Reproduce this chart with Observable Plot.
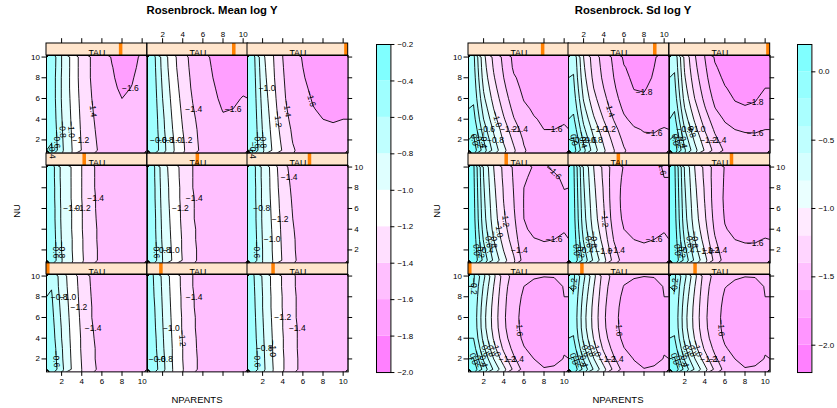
<!DOCTYPE html>
<html><head><meta charset="utf-8">
<script src="https://cdn.jsdelivr.net/npm/d3@7"></script>
<script src="https://cdn.jsdelivr.net/npm/@observablehq/plot@0.6"></script>
<style>
body{margin:0;background:#fff;font-family:"Liberation Sans",Arial,sans-serif;}
#root{position:relative;width:837px;height:408px;overflow:hidden;background:#fff;}
.lab{position:absolute;white-space:nowrap;line-height:1;color:#000;}
</style></head><body><div id="root"></div><script>
// ---------- data ----------
const nparents = [1,2,3,4,5,6,7,8,9,10];
const nu = [10,9,8,7,6,5,4,3,2,1];          // grid rows, top to bottom
const tauPos = [0,0.125,0.25,0.375,0.5,0.625,0.75,0.875,1]; // strip indicator per panel
const axisTicks = [2,4,6,8,10];
const meanLevels = [-2.0,-1.8,-1.6,-1.4,-1.2,-1.0,-0.8,-0.6,-0.4,-0.2];
const meanColors = ["#FF80FF","#FF9FFF","#FFBFFF","#FFDFFF","#FFFFFF","#DFFFFF","#BFFFFF","#9FFFFF","#80FFFF"];
const meanBarTicks = [-2.0,-1.8,-1.6,-1.4,-1.2,-1.0,-0.8,-0.6,-0.4,-0.2];
const sdLevels = [-2.2,-2.0,-1.8,-1.6,-1.4,-1.2,-1.0,-0.8,-0.6,-0.4,-0.2,0.0,0.2];
const sdColors = ["#FF80FF","#FF95FF","#FFAAFF","#FFBFFF","#FFD5FF","#FFEAFF","#EAFFFF","#D5FFFF","#BFFFFF","#AAFFFF","#95FFFF","#80FFFF"];
const sdBarTicks = [-2.0,-1.5,-1.0,-0.5,0.0];

// Mean log Y, one grid per TAU panel (rows NU=10..1, columns NPARENTS=1..10)
const meanTau0 = [
[-0.62,-0.90,-1.10,-1.28,-1.43,-1.50,-1.52,-1.53,-1.53,-1.53],
[-0.61,-0.89,-1.09,-1.27,-1.42,-1.49,-1.52,-1.53,-1.53,-1.53],
[-0.58,-0.87,-1.08,-1.26,-1.41,-1.49,-1.52,-1.53,-1.53,-1.53],
[-0.56,-0.85,-1.07,-1.25,-1.40,-1.48,-1.52,-1.53,-1.53,-1.53],
[-0.54,-0.83,-1.06,-1.24,-1.40,-1.48,-1.51,-1.53,-1.53,-1.53],
[-0.52,-0.81,-1.05,-1.23,-1.39,-1.47,-1.51,-1.52,-1.53,-1.53],
[-0.50,-0.80,-1.04,-1.22,-1.38,-1.47,-1.51,-1.52,-1.53,-1.53],
[-0.47,-0.78,-1.03,-1.22,-1.37,-1.46,-1.50,-1.52,-1.53,-1.53],
[-0.45,-0.77,-1.02,-1.21,-1.37,-1.46,-1.50,-1.52,-1.53,-1.53],
[-0.42,-0.75,-1.01,-1.20,-1.36,-1.45,-1.50,-1.52,-1.53,-1.53]];
const meanTau1 = [
[-0.58,-0.84,-1.08,-1.24,-1.40,-1.47,-1.50,-1.51,-1.51,-1.51],
[-0.57,-0.83,-1.07,-1.24,-1.40,-1.47,-1.50,-1.51,-1.51,-1.51],
[-0.56,-0.82,-1.06,-1.23,-1.39,-1.47,-1.50,-1.51,-1.51,-1.51],
[-0.54,-0.81,-1.05,-1.23,-1.39,-1.46,-1.50,-1.51,-1.51,-1.51],
[-0.53,-0.80,-1.04,-1.22,-1.38,-1.46,-1.50,-1.51,-1.51,-1.51],
[-0.52,-0.79,-1.03,-1.22,-1.38,-1.46,-1.49,-1.51,-1.51,-1.51],
[-0.50,-0.78,-1.02,-1.21,-1.37,-1.46,-1.49,-1.51,-1.51,-1.51],
[-0.49,-0.77,-1.01,-1.20,-1.37,-1.45,-1.49,-1.51,-1.51,-1.51],
[-0.47,-0.75,-1.01,-1.20,-1.36,-1.45,-1.49,-1.51,-1.51,-1.51],
[-0.45,-0.74,-1.00,-1.19,-1.36,-1.45,-1.49,-1.51,-1.51,-1.51]];
const meanTau2 = [
[-0.56,-0.82,-1.05,-1.22,-1.38,-1.46,-1.50,-1.51,-1.51,-1.51],
[-0.55,-0.81,-1.05,-1.22,-1.38,-1.46,-1.50,-1.51,-1.51,-1.51],
[-0.54,-0.80,-1.04,-1.21,-1.37,-1.46,-1.50,-1.51,-1.51,-1.51],
[-0.53,-0.80,-1.04,-1.21,-1.37,-1.46,-1.50,-1.51,-1.51,-1.51],
[-0.52,-0.79,-1.03,-1.20,-1.37,-1.46,-1.49,-1.51,-1.51,-1.51],
[-0.51,-0.78,-1.02,-1.20,-1.36,-1.45,-1.49,-1.51,-1.51,-1.51],
[-0.50,-0.77,-1.01,-1.19,-1.36,-1.45,-1.49,-1.51,-1.51,-1.51],
[-0.48,-0.76,-1.00,-1.19,-1.36,-1.45,-1.49,-1.51,-1.51,-1.51],
[-0.47,-0.75,-1.00,-1.18,-1.35,-1.45,-1.49,-1.51,-1.51,-1.51],
[-0.45,-0.74,-0.99,-1.18,-1.35,-1.45,-1.49,-1.51,-1.51,-1.51]];
const meanTau3 = [
[-0.50,-0.85,-1.01,-1.20,-1.38,-1.45,-1.48,-1.50,-1.51,-1.51],
[-0.50,-0.85,-1.01,-1.20,-1.38,-1.45,-1.48,-1.50,-1.51,-1.51],
[-0.49,-0.84,-1.01,-1.20,-1.38,-1.45,-1.48,-1.50,-1.51,-1.51],
[-0.49,-0.84,-1.01,-1.20,-1.37,-1.45,-1.48,-1.50,-1.51,-1.51],
[-0.48,-0.83,-1.00,-1.19,-1.37,-1.45,-1.48,-1.50,-1.51,-1.51],
[-0.48,-0.83,-1.00,-1.19,-1.37,-1.44,-1.48,-1.50,-1.51,-1.51],
[-0.47,-0.82,-1.00,-1.19,-1.36,-1.44,-1.48,-1.50,-1.51,-1.51],
[-0.46,-0.81,-0.99,-1.18,-1.36,-1.44,-1.48,-1.50,-1.51,-1.51],
[-0.45,-0.80,-0.99,-1.18,-1.35,-1.44,-1.48,-1.50,-1.51,-1.51],
[-0.44,-0.79,-0.98,-1.17,-1.35,-1.44,-1.48,-1.50,-1.51,-1.51]];
const meanTau4 = [
[-0.52,-0.90,-1.10,-1.26,-1.40,-1.46,-1.49,-1.50,-1.50,-1.50],
[-0.52,-0.89,-1.09,-1.26,-1.40,-1.46,-1.49,-1.50,-1.50,-1.50],
[-0.51,-0.88,-1.08,-1.25,-1.40,-1.46,-1.49,-1.50,-1.50,-1.50],
[-0.51,-0.87,-1.08,-1.25,-1.39,-1.46,-1.49,-1.50,-1.50,-1.50],
[-0.50,-0.86,-1.07,-1.24,-1.39,-1.46,-1.49,-1.50,-1.50,-1.50],
[-0.49,-0.85,-1.06,-1.24,-1.39,-1.46,-1.49,-1.50,-1.50,-1.50],
[-0.49,-0.84,-1.05,-1.23,-1.38,-1.45,-1.49,-1.50,-1.50,-1.50],
[-0.48,-0.83,-1.04,-1.22,-1.38,-1.45,-1.49,-1.50,-1.50,-1.50],
[-0.47,-0.81,-1.03,-1.22,-1.37,-1.45,-1.49,-1.50,-1.50,-1.50],
[-0.46,-0.80,-1.02,-1.21,-1.37,-1.45,-1.49,-1.50,-1.50,-1.50]];
const meanTau5 = [
[-0.50,-0.85,-1.07,-1.35,-1.45,-1.50,-1.53,-1.54,-1.55,-1.55],
[-0.50,-0.85,-1.06,-1.33,-1.44,-1.50,-1.53,-1.54,-1.55,-1.55],
[-0.49,-0.84,-1.06,-1.31,-1.43,-1.49,-1.53,-1.54,-1.55,-1.55],
[-0.49,-0.84,-1.05,-1.29,-1.42,-1.49,-1.52,-1.54,-1.55,-1.55],
[-0.48,-0.83,-1.04,-1.28,-1.41,-1.48,-1.52,-1.54,-1.54,-1.54],
[-0.48,-0.83,-1.03,-1.26,-1.40,-1.48,-1.52,-1.53,-1.54,-1.54],
[-0.47,-0.82,-1.02,-1.25,-1.39,-1.47,-1.52,-1.53,-1.54,-1.54],
[-0.46,-0.81,-1.01,-1.24,-1.38,-1.47,-1.51,-1.53,-1.54,-1.54],
[-0.46,-0.80,-1.01,-1.23,-1.38,-1.46,-1.51,-1.53,-1.54,-1.54],
[-0.45,-0.80,-1.00,-1.22,-1.37,-1.46,-1.51,-1.53,-1.54,-1.54]];
const meanTau6 = [
[-0.45,-0.80,-1.05,-1.28,-1.42,-1.53,-1.61,-1.66,-1.65,-1.57],
[-0.46,-0.80,-1.05,-1.28,-1.42,-1.52,-1.595,-1.65,-1.63,-1.56],
[-0.47,-0.81,-1.05,-1.28,-1.42,-1.51,-1.585,-1.64,-1.61,-1.55],
[-0.47,-0.81,-1.05,-1.27,-1.41,-1.50,-1.57,-1.625,-1.595,-1.54],
[-0.47,-0.81,-1.04,-1.26,-1.40,-1.49,-1.56,-1.60,-1.58,-1.53],
[-0.46,-0.80,-1.03,-1.25,-1.39,-1.48,-1.55,-1.58,-1.57,-1.53],
[-0.45,-0.79,-1.02,-1.24,-1.38,-1.47,-1.54,-1.57,-1.56,-1.52],
[-0.43,-0.78,-1.01,-1.23,-1.37,-1.46,-1.53,-1.56,-1.55,-1.52],
[-0.41,-0.77,-1.00,-1.22,-1.36,-1.45,-1.52,-1.55,-1.54,-1.51],
[-0.38,-0.76,-0.99,-1.21,-1.35,-1.44,-1.51,-1.54,-1.53,-1.51]];
const meanTau7 = [
[-0.50,-0.87,-1.13,-1.33,-1.46,-1.56,-1.62,-1.66,-1.67,-1.66],
[-0.49,-0.86,-1.12,-1.32,-1.45,-1.55,-1.61,-1.655,-1.665,-1.65],
[-0.48,-0.84,-1.10,-1.30,-1.44,-1.54,-1.60,-1.645,-1.65,-1.635],
[-0.47,-0.82,-1.08,-1.28,-1.43,-1.53,-1.59,-1.63,-1.63,-1.615],
[-0.46,-0.80,-1.06,-1.26,-1.41,-1.52,-1.58,-1.62,-1.615,-1.595],
[-0.45,-0.78,-1.04,-1.24,-1.39,-1.50,-1.57,-1.605,-1.60,-1.58],
[-0.44,-0.76,-1.02,-1.22,-1.37,-1.48,-1.56,-1.59,-1.585,-1.57],
[-0.43,-0.75,-1.00,-1.20,-1.35,-1.47,-1.54,-1.57,-1.57,-1.56],
[-0.42,-0.73,-0.98,-1.18,-1.34,-1.46,-1.53,-1.56,-1.56,-1.55],
[-0.42,-0.72,-0.97,-1.17,-1.33,-1.45,-1.52,-1.55,-1.55,-1.54]];
const meanTau8 = [
[-0.50,-0.95,-1.18,-1.40,-1.54,-1.61,-1.66,-1.69,-1.69,-1.68],
[-0.49,-0.93,-1.17,-1.39,-1.53,-1.60,-1.65,-1.68,-1.68,-1.67],
[-0.48,-0.91,-1.16,-1.38,-1.52,-1.59,-1.64,-1.67,-1.67,-1.66],
[-0.47,-0.89,-1.14,-1.37,-1.51,-1.575,-1.625,-1.655,-1.66,-1.65],
[-0.46,-0.87,-1.12,-1.36,-1.50,-1.56,-1.61,-1.64,-1.645,-1.635],
[-0.45,-0.85,-1.10,-1.34,-1.48,-1.545,-1.595,-1.62,-1.625,-1.62],
[-0.44,-0.83,-1.08,-1.31,-1.46,-1.53,-1.575,-1.60,-1.605,-1.60],
[-0.43,-0.81,-1.06,-1.28,-1.43,-1.51,-1.56,-1.585,-1.59,-1.59],
[-0.42,-0.79,-1.04,-1.25,-1.41,-1.49,-1.54,-1.57,-1.575,-1.575],
[-0.40,-0.77,-1.02,-1.22,-1.38,-1.47,-1.52,-1.55,-1.56,-1.56]];

// Sd log Y
const sdTau0 = [
[-0.17,-0.55,-0.95,-1.30,-1.47,-1.56,-1.59,-1.597,-1.595,-1.575],
[-0.20,-0.62,-1.00,-1.33,-1.51,-1.60,-1.625,-1.635,-1.63,-1.595],
[-0.22,-0.67,-1.04,-1.35,-1.53,-1.625,-1.65,-1.66,-1.655,-1.60],
[-0.24,-0.71,-1.07,-1.36,-1.545,-1.64,-1.67,-1.68,-1.675,-1.625],
[-0.25,-0.73,-1.08,-1.37,-1.55,-1.65,-1.68,-1.69,-1.685,-1.64],
[-0.24,-0.72,-1.07,-1.36,-1.545,-1.645,-1.68,-1.69,-1.685,-1.64],
[-0.20,-0.66,-1.02,-1.32,-1.52,-1.63,-1.67,-1.68,-1.675,-1.625],
[-0.11,-0.56,-0.93,-1.24,-1.46,-1.59,-1.645,-1.66,-1.65,-1.605],
[0.01,-0.43,-0.80,-1.11,-1.37,-1.53,-1.60,-1.625,-1.62,-1.597],
[0.14,-0.27,-0.63,-0.94,-1.25,-1.47,-1.56,-1.595,-1.59,-1.58]];
const sdTau1 = [
[-0.16,-0.55,-0.94,-1.29,-1.47,-1.56,-1.59,-1.598,-1.595,-1.575],
[-0.19,-0.61,-0.99,-1.32,-1.51,-1.605,-1.63,-1.64,-1.63,-1.595],
[-0.21,-0.66,-1.03,-1.34,-1.535,-1.63,-1.655,-1.665,-1.655,-1.60],
[-0.23,-0.70,-1.06,-1.36,-1.55,-1.645,-1.675,-1.685,-1.675,-1.625],
[-0.24,-0.72,-1.07,-1.37,-1.555,-1.655,-1.685,-1.695,-1.685,-1.64],
[-0.23,-0.71,-1.06,-1.36,-1.55,-1.65,-1.685,-1.695,-1.685,-1.64],
[-0.19,-0.65,-1.01,-1.32,-1.525,-1.635,-1.675,-1.685,-1.675,-1.625],
[-0.10,-0.55,-0.92,-1.24,-1.465,-1.595,-1.65,-1.665,-1.65,-1.605],
[0.02,-0.42,-0.79,-1.11,-1.375,-1.535,-1.605,-1.63,-1.62,-1.597],
[0.15,-0.26,-0.62,-0.94,-1.255,-1.475,-1.565,-1.597,-1.59,-1.58]];
const sdTau2 = [
[-0.16,-0.54,-0.94,-1.29,-1.46,-1.55,-1.585,-1.597,-1.595,-1.575],
[-0.19,-0.61,-0.99,-1.32,-1.50,-1.595,-1.625,-1.635,-1.63,-1.595],
[-0.21,-0.66,-1.03,-1.34,-1.52,-1.62,-1.65,-1.66,-1.655,-1.60],
[-0.23,-0.70,-1.06,-1.35,-1.535,-1.635,-1.67,-1.68,-1.675,-1.625],
[-0.24,-0.72,-1.07,-1.36,-1.54,-1.645,-1.68,-1.69,-1.685,-1.64],
[-0.23,-0.71,-1.06,-1.35,-1.535,-1.64,-1.68,-1.69,-1.685,-1.64],
[-0.19,-0.65,-1.01,-1.31,-1.51,-1.625,-1.67,-1.68,-1.675,-1.625],
[-0.10,-0.55,-0.92,-1.23,-1.45,-1.585,-1.645,-1.66,-1.65,-1.605],
[0.02,-0.42,-0.79,-1.10,-1.36,-1.525,-1.60,-1.625,-1.62,-1.597],
[0.15,-0.26,-0.62,-0.93,-1.24,-1.465,-1.56,-1.595,-1.59,-1.58]];
const sdTau3 = [
[0.03,-0.62,-1.00,-1.25,-1.43,-1.56,-1.61,-1.605,-1.59,-1.57],
[0.04,-0.60,-0.98,-1.24,-1.42,-1.585,-1.625,-1.625,-1.61,-1.59],
[0.05,-0.58,-0.96,-1.22,-1.41,-1.60,-1.635,-1.64,-1.63,-1.598],
[0.06,-0.56,-0.94,-1.21,-1.40,-1.605,-1.64,-1.65,-1.64,-1.61],
[0.07,-0.54,-0.92,-1.19,-1.39,-1.605,-1.645,-1.655,-1.65,-1.625],
[0.08,-0.52,-0.90,-1.17,-1.37,-1.60,-1.64,-1.65,-1.645,-1.62],
[0.10,-0.48,-0.86,-1.13,-1.34,-1.585,-1.625,-1.635,-1.63,-1.605],
[0.12,-0.42,-0.80,-1.08,-1.30,-1.56,-1.595,-1.605,-1.60,-1.59],
[0.14,-0.34,-0.72,-1.01,-1.24,-1.53,-1.57,-1.58,-1.58,-1.57],
[0.16,-0.26,-0.64,-0.93,-1.17,-1.49,-1.54,-1.56,-1.56,-1.55]];
const sdTau4 = [
[0.03,-0.62,-1.00,-1.25,-1.50,-1.61,-1.64,-1.64,-1.615,-1.595],
[0.04,-0.60,-0.98,-1.24,-1.52,-1.625,-1.655,-1.655,-1.635,-1.60],
[0.05,-0.58,-0.96,-1.22,-1.53,-1.635,-1.665,-1.665,-1.645,-1.615],
[0.06,-0.56,-0.94,-1.21,-1.53,-1.64,-1.67,-1.67,-1.655,-1.625],
[0.07,-0.54,-0.92,-1.19,-1.52,-1.64,-1.67,-1.675,-1.66,-1.63],
[0.08,-0.52,-0.90,-1.17,-1.50,-1.63,-1.665,-1.67,-1.655,-1.625],
[0.10,-0.48,-0.86,-1.13,-1.46,-1.60,-1.64,-1.65,-1.64,-1.605],
[0.12,-0.42,-0.80,-1.08,-1.41,-1.57,-1.60,-1.61,-1.60,-1.59],
[0.14,-0.34,-0.72,-1.01,-1.35,-1.53,-1.57,-1.58,-1.575,-1.57],
[0.16,-0.26,-0.64,-0.93,-1.28,-1.49,-1.54,-1.56,-1.56,-1.55]];
const sdTau5 = [
[0.03,-0.62,-1.00,-1.25,-1.48,-1.61,-1.66,-1.68,-1.68,-1.67],
[0.04,-0.60,-0.98,-1.24,-1.49,-1.615,-1.665,-1.685,-1.685,-1.675],
[0.05,-0.58,-0.96,-1.22,-1.49,-1.62,-1.67,-1.69,-1.69,-1.68],
[0.06,-0.56,-0.94,-1.21,-1.49,-1.625,-1.675,-1.69,-1.69,-1.68],
[0.07,-0.54,-0.92,-1.19,-1.48,-1.62,-1.67,-1.685,-1.685,-1.675],
[0.08,-0.52,-0.90,-1.17,-1.46,-1.61,-1.655,-1.67,-1.67,-1.655],
[0.10,-0.48,-0.86,-1.13,-1.43,-1.59,-1.635,-1.645,-1.645,-1.63],
[0.12,-0.42,-0.80,-1.08,-1.38,-1.56,-1.60,-1.61,-1.61,-1.595],
[0.14,-0.34,-0.72,-1.01,-1.32,-1.52,-1.57,-1.58,-1.58,-1.575],
[0.16,-0.26,-0.64,-0.93,-1.26,-1.48,-1.54,-1.56,-1.56,-1.55]];
const sdTau6 = [
[-0.35,-0.95,-1.25,-1.45,-1.65,-1.69,-1.72,-1.73,-1.73,-1.72],
[-0.33,-0.92,-1.22,-1.43,-1.63,-1.68,-1.71,-1.72,-1.72,-1.71],
[-0.30,-0.88,-1.18,-1.40,-1.58,-1.66,-1.70,-1.71,-1.71,-1.70],
[-0.27,-0.82,-1.13,-1.36,-1.54,-1.64,-1.68,-1.69,-1.69,-1.68],
[-0.23,-0.76,-1.07,-1.31,-1.50,-1.61,-1.65,-1.67,-1.67,-1.66],
[-0.18,-0.68,-1.00,-1.25,-1.45,-1.57,-1.62,-1.64,-1.65,-1.64],
[-0.12,-0.60,-0.92,-1.18,-1.39,-1.52,-1.59,-1.62,-1.62,-1.61],
[-0.04,-0.50,-0.83,-1.10,-1.31,-1.47,-1.55,-1.60,-1.60,-1.59],
[0.04,-0.40,-0.75,-1.03,-1.24,-1.42,-1.51,-1.57,-1.58,-1.58],
[0.12,-0.30,-0.67,-0.95,-1.17,-1.38,-1.48,-1.54,-1.56,-1.57]];
const sdTau7 = [
[-0.45,-1.00,-1.30,-1.48,-1.64,-1.83,-1.86,-1.85,-1.81,-1.76],
[-0.42,-0.97,-1.28,-1.46,-1.62,-1.79,-1.845,-1.84,-1.80,-1.75],
[-0.39,-0.93,-1.25,-1.44,-1.60,-1.76,-1.83,-1.83,-1.79,-1.74],
[-0.35,-0.88,-1.20,-1.40,-1.57,-1.72,-1.805,-1.81,-1.77,-1.72],
[-0.30,-0.82,-1.14,-1.35,-1.53,-1.68,-1.77,-1.785,-1.75,-1.70],
[-0.24,-0.74,-1.06,-1.29,-1.48,-1.63,-1.72,-1.74,-1.72,-1.68],
[-0.16,-0.65,-0.97,-1.21,-1.41,-1.57,-1.65,-1.68,-1.67,-1.64],
[-0.07,-0.55,-0.87,-1.12,-1.33,-1.50,-1.58,-1.61,-1.61,-1.59],
[0.02,-0.44,-0.78,-1.04,-1.26,-1.44,-1.53,-1.57,-1.58,-1.57],
[0.10,-0.34,-0.70,-0.97,-1.19,-1.38,-1.49,-1.54,-1.56,-1.56]];
const sdTau8 = [
[-0.45,-1.05,-1.38,-1.60,-1.82,-1.88,-1.91,-1.92,-1.90,-1.87],
[-0.42,-1.02,-1.35,-1.57,-1.78,-1.86,-1.89,-1.90,-1.88,-1.85],
[-0.38,-0.98,-1.31,-1.54,-1.74,-1.83,-1.87,-1.88,-1.86,-1.83],
[-0.34,-0.93,-1.26,-1.50,-1.70,-1.79,-1.84,-1.85,-1.83,-1.80],
[-0.29,-0.87,-1.20,-1.45,-1.65,-1.75,-1.81,-1.82,-1.81,-1.77],
[-0.22,-0.79,-1.12,-1.38,-1.59,-1.70,-1.77,-1.79,-1.78,-1.74],
[-0.14,-0.70,-1.03,-1.30,-1.51,-1.62,-1.68,-1.70,-1.70,-1.67],
[-0.05,-0.59,-0.93,-1.21,-1.43,-1.55,-1.60,-1.61,-1.61,-1.60],
[0.04,-0.48,-0.83,-1.11,-1.35,-1.50,-1.555,-1.575,-1.58,-1.58],
[0.12,-0.37,-0.73,-1.02,-1.27,-1.43,-1.51,-1.55,-1.56,-1.56]];

const meanGrids = [meanTau0,meanTau1,meanTau2,meanTau3,meanTau4,meanTau5,meanTau6,meanTau7,meanTau8];
const sdGrids = [sdTau0,sdTau1,sdTau2,sdTau3,sdTau4,sdTau5,sdTau6,sdTau7,sdTau8];

// ---------- layout ----------
const FONT = "'Liberation Sans', Arial, Helvetica, sans-serif";
const PW = 100.7, PH = 97.4, STRIP = 12;
const XD = [0.5, 10.5], YD = [0.75, 10.15];
const rowTops = [55.3, 164.8, 274.3];
const sides = [
  {cols: [46, 146.7, 247.4], grids: meanGrids, levels: meanLevels, colors: meanColors, bar: 376.2, barTicks: meanBarTicks, title: "Rosenbrock. Mean log Y", titleX: 212, nuX: 17, npX: 197},
  {cols: [467.6, 568.3, 669.0], grids: sdGrids, levels: sdLevels, colors: sdColors, bar: 797.3, barTicks: sdBarTicks, title: "Rosenbrock. Sd log Y", titleX: 633, nuX: 437, npX: 618}
];
const mL = 26, mR = 26, mT = 36, mB = 24;
const kx = PW / (XD[1] - XD[0]), ky = PH / (YD[1] - YD[0]);
const fmt = d3.format(".1f");
const root = document.getElementById("root");

const gx1 = nparents[0] - 0.5, gx2 = nparents[nparents.length - 1] + 0.5;
const gy1 = nu[0] + 0.5, gy2 = nu[nu.length - 1] - 0.5;
const gridOpts = {width: nparents.length, height: nu.length, x1: gx1, x2: gx2, y1: gy1, y2: gy2};

function isoLabels(grid, levels) {
  const n = nparents.length, m = nu.length;
  const values = grid.flat();
  const rx = d3.extent(nparents), ry = d3.extent(nu);
  const out = [];
  const onB = p => p[0] <= 1e-9 || p[0] >= n - 1e-9 || p[1] <= 1e-9 || p[1] >= m - 1e-9;
  for (const c of d3.contours().size([n, m]).thresholds(levels)(values)) {
    for (const poly of c.coordinates) for (const ring of poly) {
      const pts = ring.slice(0, ring.length - 1);
      const s = pts.findIndex(onB);
      const runs = [];
      if (s < 0) runs.push(ring);
      else {
        let cur = [];
        for (let k = 0; k < pts.length; k++) {
          const p = pts[(s + k) % pts.length];
          if (onB(p)) { if (cur.length > 1) runs.push(cur); cur = []; }
          else cur.push(p);
        }
        if (cur.length > 1) runs.push(cur);
      }
      for (const run of runs) {
        const xx = run.map(p => gx1 + p[0] * (gx2 - gx1) / n);
        const yy = run.map(p => gy1 + p[1] * (gy2 - gy1) / m);
        const L = xx.length;
        const slopes = [];
        for (let i = 0; i < L - 1; i++) {
          const dx = xx[i + 1] - xx[i], dy = yy[i + 1] - yy[i];
          slopes.push(dx === 0 && dy === 0 ? Infinity : Math.abs(dy / dx));
        }
        const depth = xx.map((x, i) => Math.min(Math.min(x - rx[0], rx[1] - x) / (rx[1] - rx[0]),
                                                Math.min(yy[i] - ry[0], ry[1] - yy[i]) / (ry[1] - ry[0])));
        let t = d3.minIndex(slopes), rot = 0;
        if (depth[t] < 0.05) {
          t = Math.min(d3.maxIndex(depth), L - 2);
          const dxs = (xx[t + 1] - xx[t]) * kx, dys = -(yy[t + 1] - yy[t]) * ky;
          rot = dxs === 0 ? 90 : Math.atan(dys / dxs) * 180 / Math.PI;
          if (!isFinite(rot)) rot = 0;
        }
        out.push({x: xx[t], y: yy[t], rotate: rot, label: fmt(c.value)});
      }
    }
  }
  return out;
}

function place(el, left, top) {
  el.style.position = "absolute";
  el.style.left = left + "px";
  el.style.top = top + "px";
  root.appendChild(el);
}
function label(text, cx, cy, size, opts = {}) {
  const d = document.createElement("div");
  d.className = "lab";
  d.textContent = text;
  d.style.fontSize = size + "px";
  d.style.fontFamily = FONT;
  if (opts.bold) d.style.fontWeight = "bold";
  d.style.left = cx + "px";
  d.style.top = cy + "px";
  d.style.transform = "translate(-50%,-50%)" + (opts.rotate ? ` rotate(${opts.rotate}deg)` : "");
  root.appendChild(d);
}

const MW = 0.035; // width share of the strip indicator
for (const side of sides) {
  const colorDomain = side.levels.slice(1, side.colors.length);
  for (let k = 0; k < 9; k++) {
    const col = k % 3, row = 2 - Math.floor(k / 3);
    const grid = side.grids[k];
    const tau = tauPos[k];
    const top = () => YD[1], bottom = () => YD[0];
    const marks = [
      Plot.contour(grid.flat(), {...gridOpts, thresholds: side.levels, fill: Plot.identity, clip: true}),
      Plot.contour(grid.flat(), {...gridOpts, thresholds: side.levels, value: Plot.identity, fill: "none", stroke: "#000", strokeWidth: 0.9, clip: true}),
      Plot.text(isoLabels(grid, side.levels), {x: "x", y: "y", text: "label", rotate: "rotate", fontSize: 8.5, fill: "#000"}),
      Plot.frame({stroke: "#000"}),
      Plot.rect([XD], {x1: d => d[0], x2: d => d[1], y1: top, y2: top, insetTop: -STRIP, fill: "#FFE5CC"}),
      Plot.rect([tau], {x1: t => XD[0] + (XD[1] - XD[0]) * t * (1 - MW), x2: t => XD[0] + (XD[1] - XD[0]) * (t * (1 - MW) + MW), y1: top, y2: top, insetTop: -STRIP, fill: "#FF7F00"}),
      Plot.rect([XD], {x1: d => d[0], x2: d => d[1], y1: top, y2: top, insetTop: -STRIP, fill: "none", stroke: "#000"}),
      Plot.text(["TAU"], {frameAnchor: "top", dy: -STRIP / 2, fontSize: 8.8, fill: "#000"})
    ];
    if (col === 0) {
      marks.push(Plot.ruleY(axisTicks, {y: d => d, x1: () => XD[0], x2: () => XD[0], insetLeft: -4.5, stroke: "#000"}));
      if (row !== 1) marks.push(Plot.text(axisTicks, {y: d => d, text: d => String(d), frameAnchor: "left", dx: -6.5, textAnchor: "end", fontSize: 8, fill: "#000"}));
    }
    if (col === 2) {
      marks.push(Plot.ruleY(axisTicks, {y: d => d, x1: () => XD[1], x2: () => XD[1], insetRight: -4.5, stroke: "#000"}));
      if (row === 1) marks.push(Plot.text(axisTicks, {y: d => d, text: d => String(d), frameAnchor: "right", dx: 6, textAnchor: "start", fontSize: 8, fill: "#000"}));
    }
    if (row === 2) {
      marks.push(Plot.ruleX(axisTicks, {x: d => d, y1: bottom, y2: bottom, insetBottom: -4.5, stroke: "#000"}));
      if (col !== 1) marks.push(Plot.text(axisTicks, {x: d => d, text: d => String(d), frameAnchor: "bottom", dy: 12.5, fontSize: 8, fill: "#000"}));
    }
    if (row === 0) {
      marks.push(Plot.ruleX(axisTicks, {x: d => d, y1: top, y2: top, insetTop: -(STRIP + 4.8), insetBottom: STRIP, stroke: "#000"}));
      if (col === 1) marks.push(Plot.text(axisTicks, {x: d => d, text: d => String(d), frameAnchor: "top", dy: -24.5, fontSize: 8, fill: "#000"}));
    }
    const svg = Plot.plot({
      width: PW + mL + mR, height: PH + mT + mB,
      marginLeft: mL, marginRight: mR, marginTop: mT, marginBottom: mB,
      x: {domain: XD, axis: null},
      y: {domain: YD, axis: null},
      color: {type: "threshold", domain: colorDomain, range: side.colors},
      style: {background: "none", overflow: "visible", fontFamily: FONT},
      marks
    });
    place(svg, side.cols[col] - mL, rowTops[row] - mT);
  }
  // colour key
  const lv = side.levels;
  const bands = side.colors.map((c, i) => ({lo: lv[i], hi: lv[i + 1], c}));
  const BW = 14.4, bT = 43.5, bB = 371.6;
  const cbm = {l: 6, r: 30, t: 10, b: 10};
  const bar = Plot.plot({
    width: BW + cbm.l + cbm.r, height: (bB - bT) + cbm.t + cbm.b,
    marginLeft: cbm.l, marginRight: cbm.r, marginTop: cbm.t, marginBottom: cbm.b,
    x: {domain: [0, 1], axis: null},
    y: {domain: [lv[0], lv[lv.length - 1]], axis: null},
    color: {type: "identity"},
    style: {background: "none", overflow: "visible", fontFamily: FONT},
    marks: [
      Plot.rect(bands, {x1: () => 0, x2: () => 1, y1: "lo", y2: "hi", fill: "c"}),
      Plot.frame({stroke: "#000"}),
      Plot.ruleY(side.barTicks, {y: d => d, x1: () => 1, x2: () => 1, insetRight: -4, stroke: "#000"}),
      Plot.text(side.barTicks, {y: d => d, text: d => fmt(d), frameAnchor: "right", dx: 6.5, textAnchor: "start", fontSize: 8, fill: "#000"})
    ]
  });
  place(bar, side.bar - cbm.l, bT - cbm.t);
  label(side.title, side.titleX, 10.5, 11.3, {bold: true});
  label("NU", side.nuX, 211, 9.5, {rotate: -90});
  label("NPARENTS", side.npX, 400, 9.5);
}
</script></body></html>
